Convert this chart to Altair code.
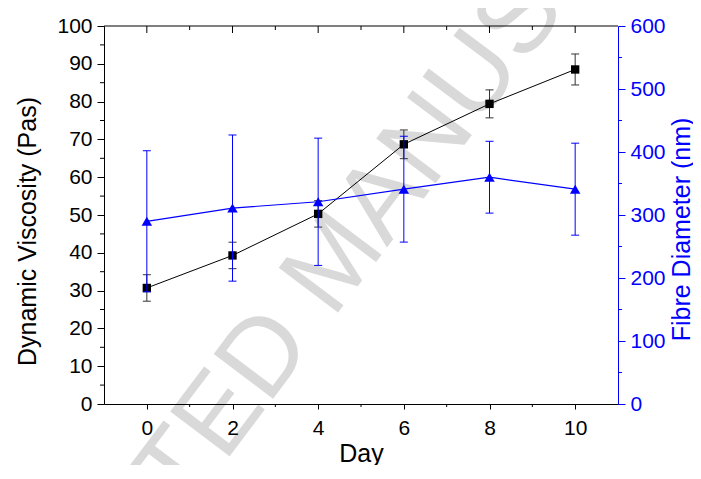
import altair as alt
import pandas as pd

# ---- data ----
days = [0, 2, 4, 6, 8, 10]
viscosity = [30.7, 39.3, 50.3, 68.7, 79.4, 88.5]
viscosity_err = [3.5, 3.5, 3.5, 3.8, 3.7, 4.1]
diameter = [290, 311, 321, 341, 360, 341]
diameter_err = [112, 116, 101, 84, 57, 73]

x_major = [0, 2, 4, 6, 8, 10]
x_minor = [1, 3, 5, 7, 9]
left_ticks = [0, 10, 20, 30, 40, 50, 60, 70, 80, 90, 100]
left_minor = [5, 15, 25, 35, 45, 55, 65, 75, 85, 95]
right_ticks = [0, 100, 200, 300, 400, 500, 600]
right_minor = [50, 150, 250, 350, 450, 550]
watermark = ["ACCEPTED MANUSCRIPT"]

W, H = 514, 378
BLUE = "#0000FF"
FONT = "Liberation Sans"

df = pd.DataFrame({
    "day": days,
    "visc": viscosity,
    "visc_lo": [v - e for v, e in zip(viscosity, viscosity_err)],
    "visc_hi": [v + e for v, e in zip(viscosity, viscosity_err)],
    "diam": diameter,
    "diam_lo": [v - e for v, e in zip(diameter, diameter_err)],
    "diam_hi": [v + e for v, e in zip(diameter, diameter_err)],
})

xscale = alt.Scale(domain=[-1, 11], nice=False, zero=False)
xaxis = alt.Axis(values=x_major, title="Day", tickSize=5, labelPadding=8,
                 titleX=W / 2, titleY=57, titleBaseline="alphabetic", titleAlign="center",
                 grid=False, domainColor="black", tickColor="black",
                 labelColor="black", titleColor="black", orient="bottom", zindex=1)


def X(field):
    return alt.X(field, type="quantitative", scale=xscale, axis=xaxis)


lscale = alt.Scale(domain=[0, 100], nice=False, zero=False)
laxis = alt.Axis(values=left_ticks, title="Dynamic Viscosity (Pas)", orient="left",
                 tickSize=7, labelPadding=5, grid=False,
                 titleAngle=270, titleX=-69, titleY=205, titleBaseline="alphabetic",
                 titleAlign="center",
                 domainColor="black", tickColor="black", labelColor="black",
                 titleColor="black", zindex=1)


def YL(field):
    return alt.Y(field, type="quantitative", scale=lscale, axis=laxis)


rscale = alt.Scale(domain=[0, 600], nice=False, zero=False)
raxis = alt.Axis(values=right_ticks, title="Fibre Diameter (nm)", orient="right",
                 tickSize=7, labelPadding=5, grid=False,
                 titleAngle=270, titleX=71, titleY=203, titleBaseline="alphabetic",
                 titleAlign="center",
                 domainColor=BLUE, tickColor=BLUE, labelColor=BLUE, titleColor=BLUE,
                 zindex=1)


def YR(field):
    return alt.Y(field, type="quantitative", scale=rscale, axis=raxis)


base = alt.Chart(df)

# ---- left (viscosity) layer ----
v_err = base.mark_rule(color="#333333", strokeWidth=1).encode(
    x=X("day"), y=YL("visc_lo"), y2="visc_hi")
v_cap_lo = base.mark_tick(orient="horizontal", size=8, thickness=1, color="#333333", opacity=1).encode(
    x=X("day"), y=YL("visc_lo"))
v_cap_hi = base.mark_tick(orient="horizontal", size=8, thickness=1, color="#333333", opacity=1).encode(
    x=X("day"), y=YL("visc_hi"))
v_line = base.mark_line(color="black", strokeWidth=1).encode(x=X("day"), y=YL("visc"))
v_pts = base.mark_point(shape="square", filled=True, size=70, color="black", opacity=1).encode(
    x=X("day"), y=YL("visc"))

lminor = alt.Chart(pd.DataFrame({"v": left_minor})).mark_rule(color="black").encode(
    y=YL("v"), x=alt.value(-4), x2=alt.value(0))

top_major = alt.Chart(pd.DataFrame({"t": x_major})).mark_rule(color="black").encode(
    x=X("t"), y=alt.value(0), y2=alt.value(7))
top_minor = alt.Chart(pd.DataFrame({"t": x_minor})).mark_rule(color="black").encode(
    x=X("t"), y=alt.value(0), y2=alt.value(4))
bot_minor = alt.Chart(pd.DataFrame({"t": x_minor})).mark_rule(color="black").encode(
    x=X("t"), y=alt.value(H), y2=alt.value(H + 3))
top_line = alt.Chart(pd.DataFrame({"t": [0]})).mark_rule(color="black", strokeWidth=1).encode(
    x=alt.value(0), x2=alt.value(W), y=alt.value(0))

left = alt.layer(top_line, top_major, top_minor, bot_minor, lminor,
                 v_err, v_cap_lo, v_cap_hi, v_line, v_pts)

# ---- right (diameter) layer ----
d_err = base.mark_rule(color=BLUE, strokeWidth=1).encode(
    x=X("day"), y=YR("diam_lo"), y2="diam_hi")
d_cap_lo = base.mark_tick(orient="horizontal", size=8, thickness=1, color=BLUE, opacity=1).encode(
    x=X("day"), y=YR("diam_lo"))
d_cap_hi = base.mark_tick(orient="horizontal", size=8, thickness=1, color=BLUE, opacity=1).encode(
    x=X("day"), y=YR("diam_hi"))
d_line = base.mark_line(color=BLUE, strokeWidth=1.2).encode(x=X("day"), y=YR("diam"))
d_pts = base.mark_point(shape="triangle-up", filled=True, size=110, color=BLUE, opacity=1).encode(
    x=X("day"), y=YR("diam"))
rminor = alt.Chart(pd.DataFrame({"v": right_minor})).mark_rule(color=BLUE).encode(
    y=YR("v"), x=alt.value(W), x2=alt.value(W + 4))

right = alt.layer(rminor, d_err, d_cap_lo, d_cap_hi, d_line, d_pts)

wm = alt.Chart(pd.DataFrame({"t": watermark})).mark_text(
    angle=307, fontSize=108, color="#d9d9d9", font=FONT, align="center", baseline="middle"
).encode(text="t:N", x=alt.value(232), y=alt.value(236))

chart = alt.layer(wm, left, right).resolve_scale(y="independent").properties(
    width=W, height=H,
    autosize=alt.AutoSizeParams(type="none"),
    padding={"left": 96, "top": 18, "right": 75, "bottom": 61},
).configure_view(stroke=None).configure_axis(
    labelFont=FONT, titleFont=FONT, labelFontSize=21, titleFontSize=25,
    titleFontWeight="normal", domainWidth=1, tickWidth=1,
)

chart.save("out.html", embed_options={"renderer": "svg", "actions": False})
